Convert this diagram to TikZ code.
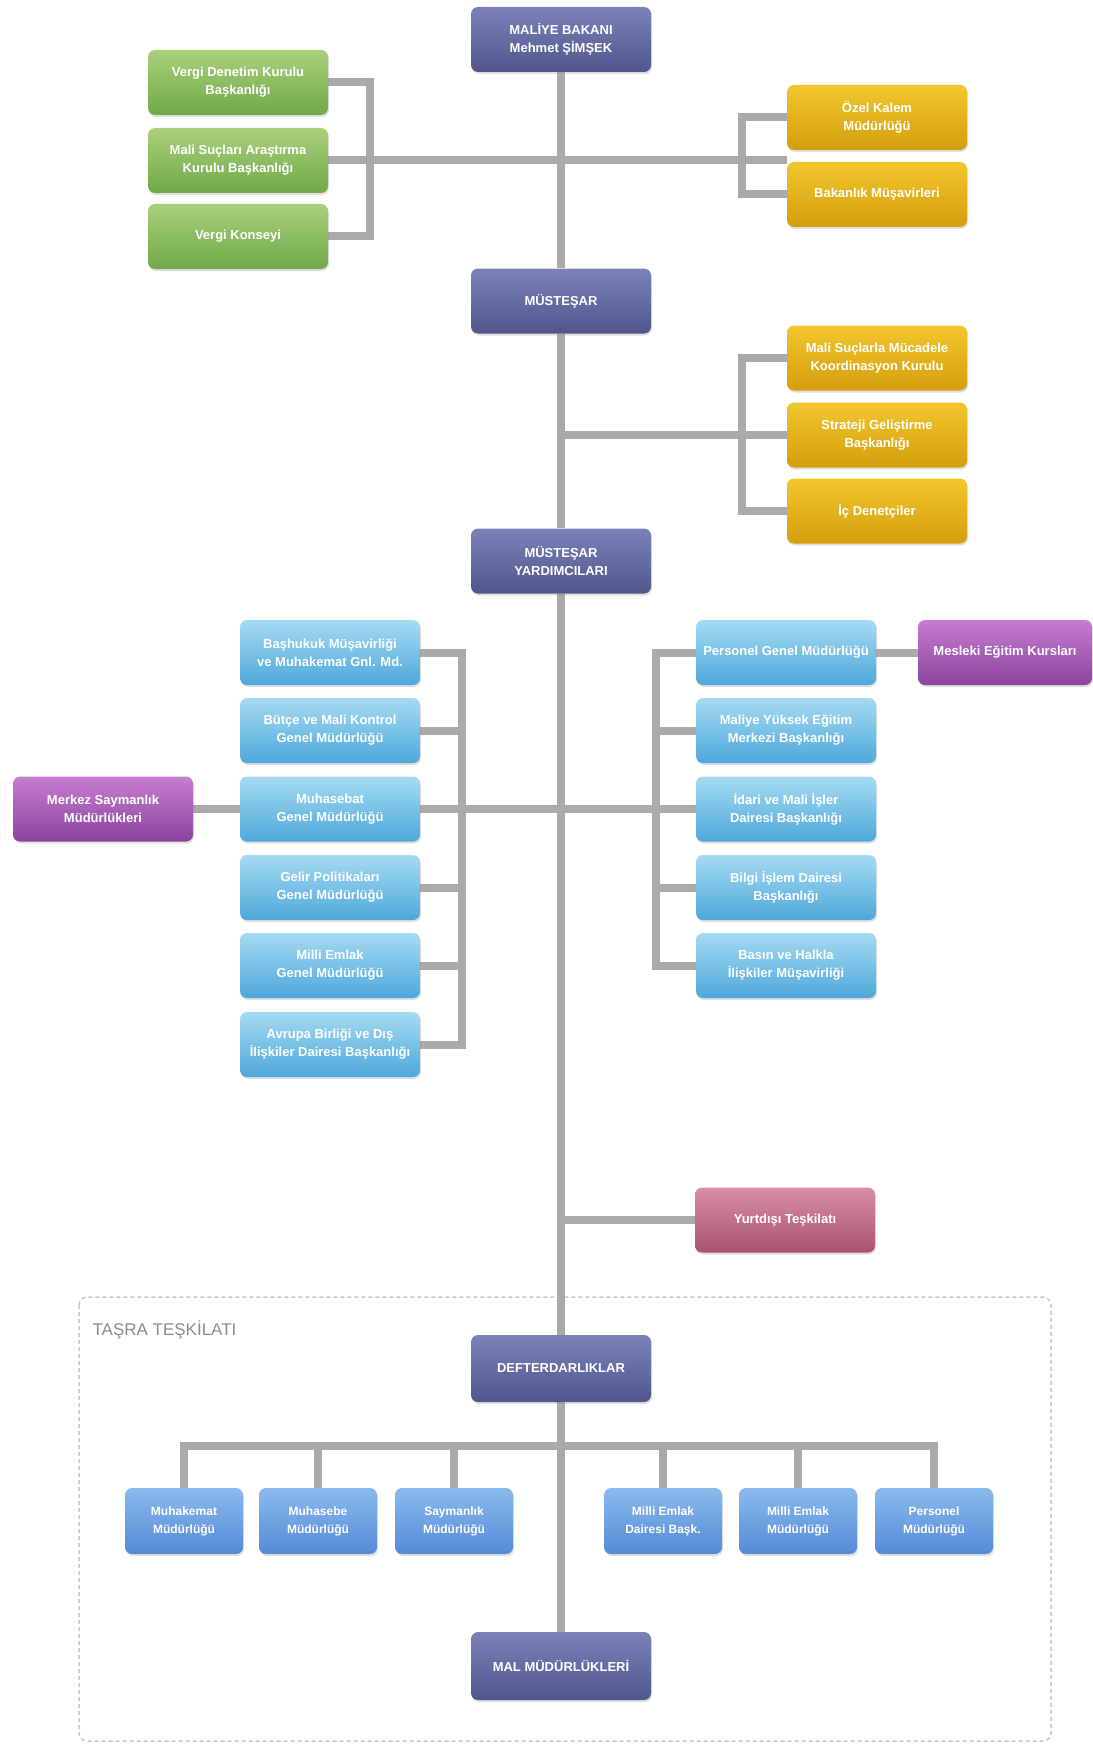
\documentclass[tikz,border=0pt]{standalone}
\usepackage{fontspec}
\setmainfont{Liberation Sans}
\usetikzlibrary{shadows}
\pgfdeclarelayer{bg}
\pgfsetlayers{bg,main}
\definecolor{lineg}{RGB}{170,170,170}
\definecolor{navyT}{RGB}{122,130,184}
\definecolor{navyB}{RGB}{78,86,140}
\definecolor{greenT}{RGB}{170,208,124}
\definecolor{greenB}{RGB}{112,168,72}
\definecolor{goldT}{RGB}{242,198,46}
\definecolor{goldB}{RGB}{212,158,14}
\definecolor{lblueT}{RGB}{165,218,242}
\definecolor{lblueB}{RGB}{78,168,218}
\definecolor{purpT}{RGB}{198,124,208}
\definecolor{purpB}{RGB}{138,68,158}
\definecolor{pinkT}{RGB}{216,142,166}
\definecolor{pinkB}{RGB}{170,82,112}
\definecolor{bblueT}{RGB}{138,186,238}
\definecolor{bblueB}{RGB}{84,138,214}
\definecolor{framec}{RGB}{200,200,200}
\definecolor{labelc}{RGB}{140,140,140}
\begin{document}
\begin{tikzpicture}[x=1pt,y=-1pt,
  box/.style={rounded corners=7pt, minimum width=180pt, minimum height=65pt, inner sep=2pt,
    align=center, text=white, font=\fontsize{13}{18}\selectfont\bfseries,
    drop shadow={opacity=0.25,shadow xshift=1pt,shadow yshift=-2pt}},
  navy/.style={box, top color=navyT, bottom color=navyB},
  greenb/.style={box, top color=greenT, bottom color=greenB},
  goldb/.style={box, top color=goldT, bottom color=goldB},
  lblue/.style={box, top color=lblueT, bottom color=lblueB},
  purpb/.style={box, top color=purpT, bottom color=purpB},
  pinkb/.style={box, top color=pinkT, bottom color=pinkB},
  bblue/.style={box, top color=bblueT, bottom color=bblueB, minimum width=118pt, minimum height=66pt,
    font=\fontsize{12}{18}\selectfont\bfseries},
  conn/.style={draw=lineg, line width=8pt}
]
\useasboundingbox (0,0) rectangle (1092,1744);

% top level
\node[navy] (bakan) at (561,39.5) {MALİYE BAKANI\\Mehmet ŞİMŞEK};
\node[greenb] (g1) at (238,82.5) {Vergi Denetim Kurulu\\Başkanlığı};
\node[greenb] (g2) at (238,160.5) {Mali Suçları Araştırma\\Kurulu Başkanlığı};
\node[greenb] (g3) at (238,236.5) {Vergi Konseyi};
\node[goldb] (o1) at (877,117.5) {Özel Kalem\\Müdürlüğü};
\node[goldb] (o2) at (877,194.5) {Bakanlık Müşavirleri};

\node[navy] (mus) at (561,301) {MÜSTEŞAR};
\node[goldb] (s1) at (877,358) {Mali Suçlarla Mücadele\\Koordinasyon Kurulu};
\node[goldb] (s2) at (877,435) {Strateji Geliştirme\\Başkanlığı};
\node[goldb] (s3) at (877,511) {İç Denetçiler};

\node[navy] (musy) at (561,561) {MÜSTEŞAR\\YARDIMCILARI};

% left column
\node[lblue] (L1) at (330,652.5) {Başhukuk Müşavirliği\\ve Muhakemat Gnl. Md.};
\node[lblue] (L2) at (330,730.5) {Bütçe ve Mali Kontrol\\Genel Müdürlüğü};
\node[lblue] (L3) at (330,809) {Muhasebat\\Genel Müdürlüğü};
\node[lblue] (L4) at (330,887.5) {Gelir Politikaları\\Genel Müdürlüğü};
\node[lblue] (L5) at (330,965.5) {Milli Emlak\\Genel Müdürlüğü};
\node[lblue] (L6) at (330,1044.5) {Avrupa Birliği ve Dış\\İlişkiler Dairesi Başkanlığı};
\node[purpb] (merkez) at (103,809) {Merkez Saymanlık\\Müdürlükleri};

% right column
\node[lblue] (R1) at (786,652.5) {Personel Genel Müdürlüğü};
\node[lblue] (R2) at (786,730.5) {Maliye Yüksek Eğitim\\Merkezi Başkanlığı};
\node[lblue] (R3) at (786,809) {İdari ve Mali İşler\\Dairesi Başkanlığı};
\node[lblue] (R4) at (786,887.5) {Bilgi İşlem Dairesi\\Başkanlığı};
\node[lblue] (R5) at (786,965.5) {Basın ve Halkla\\İlişkiler Müşavirliği};
\node[purpb, minimum width=174pt] (mesleki) at (1005,652.5) {Mesleki Eğitim Kursları};

\node[pinkb] (yurt) at (785,1220) {Yurtdışı Teşkilatı};

% tasra
\node[anchor=west, text=labelc, font=\fontsize{17}{20}\selectfont] (tlabel) at (89,1330) {TAŞRA TEŞKİLATI};
\node[navy, minimum height=67pt] (defter) at (561,1368.5) {DEFTERDARLIKLAR};
\node[bblue] (b1) at (184,1521) {Muhakemat\\Müdürlüğü};
\node[bblue] (b2) at (318,1521) {Muhasebe\\Müdürlüğü};
\node[bblue] (b3) at (454,1521) {Saymanlık\\Müdürlüğü};
\node[bblue] (b4) at (663,1521) {Milli Emlak\\Dairesi Başk.};
\node[bblue] (b5) at (798,1521) {Milli Emlak\\Müdürlüğü};
\node[bblue] (b6) at (934,1521) {Personel\\Müdürlüğü};
\node[navy, minimum height=68pt] (mal) at (561,1666) {MAL MÜDÜRLÜKLERİ};

\begin{pgfonlayer}{bg}
  \draw[framec, line width=1.5pt, dash pattern=on 4pt off 3pt, rounded corners=8pt]
    (79,1297) rectangle (1051,1741);
  % main spine
  \draw[conn] (bakan) -- (mus);
  \draw[conn] (mus) -- (musy);
  \draw[conn] (musy) -- (defter);
  \draw[conn] (defter) -- (mal);
  % top
  \draw[conn] (g1.east) -- ++(42,0) |- (g3.east);
  \draw[conn] (g2.east) -- (o1.west |- g2.east) -- ++(-45,0);
  \draw[conn] (o1.west) -- ++(-45,0) |- (o2.west);
  % musteşar
  \draw[conn] (mus.south |- s2.west) -- (s2.west);
  \draw[conn] (s1.west) -- ++(-45,0) |- (s3.west);
  % left column
  \draw[conn] (L1.east) -- ++(42,0) |- (L6.east);
  \draw[conn] (L2.east) -- ++(42,0);
  \draw[conn] (L4.east) -- ++(42,0);
  \draw[conn] (L5.east) -- ++(42,0);
  \draw[conn] (L3.east) -- (R3.west);
  \draw[conn] (merkez.east) -- (L3.west);
  % right column
  \draw[conn] (R1.west) -- ++(-40,0) |- (R5.west);
  \draw[conn] (R2.west) -- ++(-40,0);
  \draw[conn] (R4.west) -- ++(-40,0);
  \draw[conn] (R1.east) -- (mesleki.west);
  % yurtdışı
  \draw[conn] (musy.south |- yurt.west) -- (yurt.west);
  % bottom bus
  \draw[conn] (b1.north) -- ++(0,-42) -| (b6.north);
  \draw[conn] (b2.north) -- ++(0,-42);
  \draw[conn] (b3.north) -- ++(0,-42);
  \draw[conn] (b4.north) -- ++(0,-42);
  \draw[conn] (b5.north) -- ++(0,-42);
\end{pgfonlayer}
\end{tikzpicture}
\end{document}
